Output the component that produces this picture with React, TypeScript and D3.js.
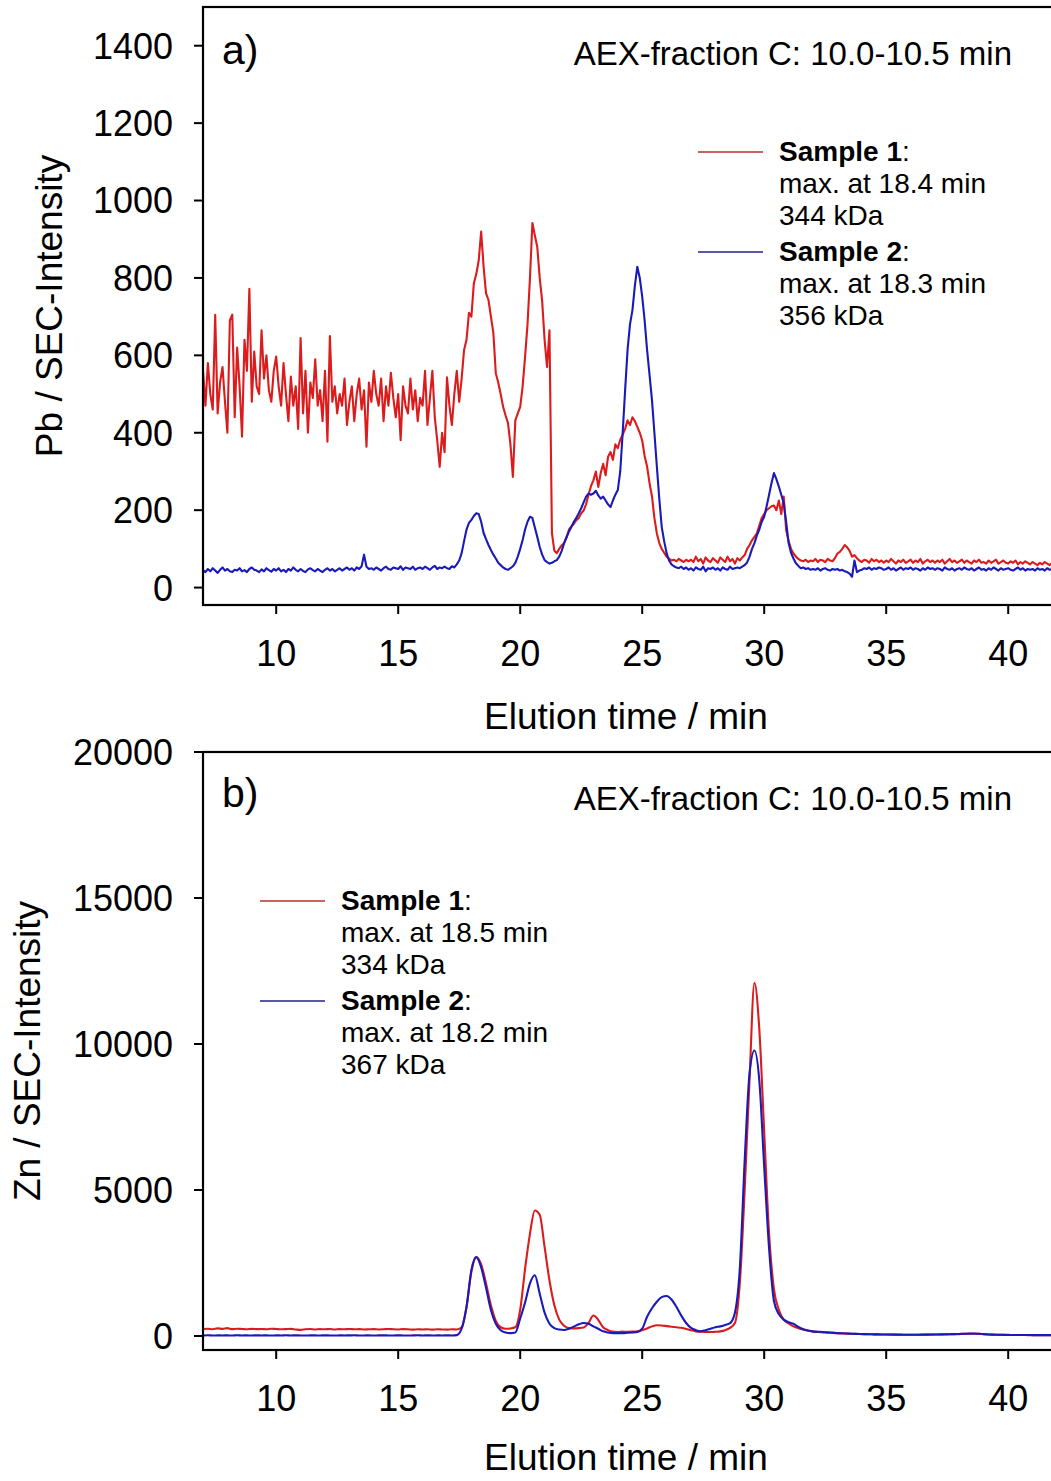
import React from 'react';
import * as d3 from 'd3';

// ---------- data ----------
const timeTicks = [10, 15, 20, 25, 30, 35, 40];
const pbTicks = [0, 200, 400, 600, 800, 1000, 1200, 1400];
const znTicks = [0, 5000, 10000, 15000, 20000];

// Pb panel: elution time from 7.0 min, one value every 0.1 min
const pbStart = 7;
const pbStep = 0.1;
const pbSample1 = [
  560, 470, 580, 500, 460, 705, 450, 530, 570, 480,
  400, 690, 705, 440, 620, 520, 390, 640, 560, 772,
  480, 610, 520, 500, 665, 540, 600, 510, 480, 560,
  597, 520, 470, 580, 500, 430, 545, 470, 520, 410,
  645, 450, 560, 400, 530, 490, 590, 470, 510, 430,
  560, 377, 650, 480, 520, 450, 500, 470, 540, 420,
  480, 520, 430, 500, 540, 460, 510, 364, 530, 480,
  560, 500, 470, 540, 430, 520, 470, 555, 490, 440,
  500, 381, 520, 470, 450, 540, 460, 510, 430, 490,
  470, 560, 420, 490, 560, 440, 380, 312, 400, 350,
  543, 470, 420, 500, 560, 480, 540, 614, 640, 710,
  700, 786, 810, 845, 920, 829, 760, 743, 700, 658,
  554, 530, 500, 467, 445, 425, 370, 286, 432, 450,
  467, 520, 596, 680, 800, 942, 910, 880, 800, 740,
  640, 570, 665, 141, 95, 89, 100, 109, 115, 130,
  150, 158, 165, 174, 180, 192, 199, 215, 240, 262,
  277, 300, 260, 296, 320, 290, 338, 350, 330, 370,
  360, 382, 395, 410, 432, 420, 440, 430, 415, 400,
  380, 340, 313, 270, 236, 180, 140, 115, 100, 90,
  80, 75, 70, 72, 68, 74, 70, 66, 72, 68,
  72, 66, 80, 68, 74, 62, 78, 70, 66, 76,
  70, 64, 78, 72, 66, 80, 68, 74, 62, 76,
  70, 78, 84, 100, 110, 122, 131, 140, 160, 180,
  190, 200, 205, 210, 212, 200, 225, 190, 235, 149,
  120, 100, 88, 80, 74, 70, 68, 72, 66, 70,
  68, 74, 66, 72, 70, 66, 74, 70, 68, 76,
  88, 92, 100, 110, 104, 95, 80, 84, 76, 70,
  66, 72, 70, 64, 74, 68, 72, 66, 70, 64,
  70, 66, 74, 68, 62, 70, 66, 72, 64, 68,
  72, 64, 70, 66, 74, 62, 68, 72, 66, 70,
  64, 70, 66, 72, 62, 68, 74, 66, 70, 64,
  68, 72, 64, 70, 66, 62, 70, 66, 72, 64,
  66, 62, 70, 64, 68, 72, 62, 66, 70, 64,
  62, 68, 64, 70, 60, 66, 62, 68, 64, 60,
  66, 62, 58, 64, 60, 66, 62, 58, 64, 60,
  62,
];
const pbSample2 = [
  45, 40, 48, 42, 50, 44, 38, 46, 52, 44,
  48, 42, 40, 46, 44, 50, 42, 45, 40, 48,
  52, 46, 44, 40, 47, 42, 50, 45, 41, 48,
  44, 50, 42, 46, 40, 48, 44, 52, 46, 42,
  48, 43, 40, 47, 50, 45, 42, 48, 44, 40,
  46, 50, 44, 48, 42, 46, 50, 44, 48, 52,
  46, 50, 44, 52, 48, 55, 85, 54, 48, 50,
  46, 52, 48, 44, 50, 54, 48, 46, 52, 50,
  48, 55, 46, 52, 50, 48, 54, 46, 50, 52,
  48, 54, 50, 46, 52, 56, 48, 52, 50, 54,
  50, 48, 55, 52, 60, 70, 89, 120, 150, 167,
  175, 185, 192, 190, 170, 141, 125, 110, 97, 85,
  75, 64, 58, 52, 48, 46, 50, 55, 64, 80,
  100, 123, 150, 170, 183, 180, 155, 131, 105, 85,
  71, 66, 62, 64, 68, 71, 80, 95, 115, 130,
  145, 157, 170, 180, 192, 205, 220, 235, 243, 240,
  243, 250, 238, 230, 235, 225, 215, 208, 225, 240,
  252, 300, 400, 510, 614, 680, 717, 780, 829, 800,
  752, 690, 614, 550, 485, 400, 313, 230, 157, 120,
  89, 70, 60, 55, 52, 50, 54, 48, 52, 46,
  50, 44, 52, 48, 46, 54, 42, 50, 48, 52,
  46, 50, 44, 52, 48, 46, 54, 48, 50, 52,
  50, 54, 58, 65, 80, 100, 115, 135, 150, 170,
  183, 210, 240, 270, 296, 280, 261, 240, 218, 170,
  115, 90, 75, 63, 56, 50, 52, 48, 50, 46,
  48, 46, 50, 44, 48, 50, 46, 44, 48, 46,
  48, 44, 46, 42, 40, 36, 28, 70, 40, 44,
  46, 50, 48, 52, 46, 50, 48, 52, 50, 46,
  48, 52, 46, 50, 44, 48, 52, 46, 50, 48,
  52, 46, 50, 48, 44, 50, 46, 52, 48, 50,
  46, 50, 48, 44, 52, 48, 46, 50, 44, 48,
  50, 46, 52, 48, 46, 50, 44, 48, 52, 46,
  48, 44, 50, 46, 52, 48, 44, 50, 46, 48,
  50, 46, 44, 48, 52, 46, 50, 44, 48, 46,
  48, 44, 50, 46, 48, 44, 50, 46, 48, 46,
  48,
];

// Zn panel: elution time from 7.0 min, one value every 0.2 min
const znStart = 7;
const znStep = 0.2;
const znSample1 = [
  240, 250, 230, 260, 245,
  270, 235, 250, 240, 230,
  245, 235, 240, 230, 250,
  240, 230, 235, 245, 225,
  210, 230, 240, 225, 235,
  230, 240, 225, 235, 230,
  240, 230, 235, 225, 230,
  235, 225, 230, 240, 230,
  225, 235, 230, 220, 230,
  225, 230, 220, 230, 225,
  220, 230, 225, 300, 1000,
  2200, 2700, 2450, 1800, 1050,
  520, 300, 250, 260, 300,
  900, 2300, 3500, 4300, 4150,
  3050, 1900, 1050, 560, 350,
  270, 260, 270, 290, 450,
  700, 550, 300, 200, 150,
  140, 150, 145, 150, 160,
  200, 260, 330, 370, 360,
  340, 320, 300, 280, 240,
  200, 160, 148, 140, 135,
  145, 160, 200, 280, 445,
  1800, 5000, 8800, 12100, 10500,
  7000, 3500, 1600, 900, 560,
  430, 330, 270, 220, 180,
  150, 135, 125, 115, 105,
  95, 88, 82, 76, 70,
  66, 62, 58, 55, 52,
  50, 48, 46, 45, 44,
  44, 42, 44, 46, 48,
  50, 52, 55, 58, 62,
  66, 72, 78, 80, 74,
  62, 52, 45, 40, 38,
  36, 35, 34, 33, 32,
  32, 31, 30, 30, 30,
  30,
];
const znSample2 = [
  20, 25, 18, 22, 20,
  22, 18, 24, 20, 21,
  19, 23, 20, 22, 18,
  21, 20, 24, 19, 22,
  20, 18, 22, 21, 19,
  23, 20, 18, 22, 20,
  21, 24, 19, 20, 22,
  18, 21, 23, 20, 19,
  22, 20, 18, 21, 24,
  20, 22, 19, 21, 20,
  22, 20, 30, 250, 1000,
  2257, 2700, 2350, 1650, 890,
  420, 200, 120, 100, 120,
  600, 1150, 1800, 2080, 1450,
  800, 420, 270, 220, 205,
  250, 320, 400, 445, 420,
  330, 250, 160, 120, 100,
  100, 100, 110, 120, 140,
  250, 660, 950, 1175, 1330,
  1370, 1250, 1000, 700, 445,
  280, 200, 160, 200, 250,
  300, 330, 380, 440, 800,
  2300, 6000, 9000, 9780, 8750,
  5800, 3000, 1200, 750, 560,
  470, 420, 310, 230, 190,
  160, 148, 135, 125, 115,
  100, 92, 84, 78, 72,
  68, 64, 60, 56, 54,
  52, 50, 48, 46, 45,
  45, 44, 46, 48, 50,
  52, 55, 58, 62, 66,
  70, 76, 82, 84, 76,
  64, 54, 46, 42, 40,
  38, 36, 35, 34, 33,
  32, 31, 31, 30, 30,
  30,
];

const pbLegend1 = ['max. at 18.4 min', '344 kDa'];
const pbLegend2 = ['max. at 18.3 min', '356 kDa'];
const znLegend1 = ['max. at 18.5 min', '334 kDa'];
const znLegend2 = ['max. at 18.2 min', '367 kDa'];

// ---------- styles ----------
const W = 1051;
const H = 1481;
const FONT = "'Liberation Sans', Arial, Helvetica, sans-serif";
const RED = '#dc1c1c';
const BLUE = '#1a1ab8';
const RED_LEG = '#b83030';
const BLUE_LEG = '#20208a';

type PanelProps = {
  id: string;
  top: number;
  bottom: number;
  yDomain: [number, number];
  yTicks: number[];
  s1: number[];
  s2: number[];
  start: number;
  step: number;
  smooth: boolean;
  yLabel: string;
  tag: string;
  tagY: number;
  noteY: number;
  yLabelX: number;
  xTitleY: number;
  legendX: number;
  legendY: number;
  leg1: string[];
  leg2: string[];
};

const LEFT = 203;
const RIGHT = 1057;

function Panel(p: PanelProps) {
  const x = d3.scaleLinear().domain([7, 42]).range([LEFT, RIGHT]);
  const y = d3.scaleLinear().domain(p.yDomain).range([p.bottom, p.top]);
  const line = d3
    .line<number>()
    .x((_, i) => x(p.start + i * p.step))
    .y((d) => y(d))
    .curve(p.smooth ? d3.curveMonotoneX : d3.curveLinear);
  const cx = (LEFT + RIGHT) / 2;
  const cy = (p.top + p.bottom) / 2;
  const lx = p.legendX;
  const ly = p.legendY;
  const lineH = 32;
  const legText = (lines: string[], y0: number, color: string, ll: number) => (
    <g>
      <line x1={lx} x2={lx + 65} y1={y0 - 9} y2={y0 - 9} stroke={color} strokeWidth={1.6} />
      <text x={lx + 81} y={y0} fontSize={28} fontFamily={FONT}>
        <tspan fontWeight="bold">{`Sample ${ll}`}</tspan>
        <tspan>:</tspan>
      </text>
      {lines.map((t, i) => (
        <text key={i} x={lx + 81} y={y0 + (i + 1) * lineH} fontSize={28} fontFamily={FONT}>
          {t}
        </text>
      ))}
    </g>
  );
  return (
    <g>
      <defs>
        <clipPath id={`clip-${p.id}`}>
          <rect x={LEFT} y={p.top} width={RIGHT - LEFT} height={p.bottom - p.top} />
        </clipPath>
      </defs>
      <g clipPath={`url(#clip-${p.id})`} fill="none" strokeWidth={2.1} strokeLinejoin="round">
        <path d={line(p.s1) || ''} stroke={RED} />
        <path d={line(p.s2) || ''} stroke={BLUE} />
      </g>
      <rect
        x={LEFT}
        y={p.top}
        width={RIGHT - LEFT}
        height={p.bottom - p.top}
        fill="none"
        stroke="#000"
        strokeWidth={2.2}
      />
      {p.yTicks.map((t) => (
        <g key={t}>
          <line x1={LEFT - 9} x2={LEFT} y1={y(t)} y2={y(t)} stroke="#000" strokeWidth={2} />
          <text
            x={173}
            y={y(t)}
            dy="0.36em"
            textAnchor="end"
            fontSize={36}
            fontFamily={FONT}
          >
            {t}
          </text>
        </g>
      ))}
      {timeTicks.map((t) => (
        <g key={t}>
          <line x1={x(t)} x2={x(t)} y1={p.bottom} y2={p.bottom + 9} stroke="#000" strokeWidth={2} />
          <text x={x(t)} y={p.bottom + 61} textAnchor="middle" fontSize={36} fontFamily={FONT}>
            {t}
          </text>
        </g>
      ))}
      <text x={cx - 4} y={p.xTitleY} textAnchor="middle" fontSize={37} fontFamily={FONT}>
        Elution time / min
      </text>
      <text
        transform={`translate(${p.yLabelX},${cy}) rotate(-90)`}
        textAnchor="middle"
        fontSize={37}
        fontFamily={FONT}
      >
        {p.yLabel}
      </text>
      <text x={222} y={p.tagY} fontSize={41} fontFamily={FONT}>
        {p.tag}
      </text>
      <text x={1012} y={p.noteY} textAnchor="end" fontSize={33} fontFamily={FONT}>
        AEX-fraction C: 10.0-10.5 min
      </text>
      {legText(p.leg1, ly, RED_LEG, 1)}
      {legText(p.leg2, ly + 100, BLUE_LEG, 2)}
    </g>
  );
}

export default function App() {
  return (
    <svg
      width={W}
      height={H}
      viewBox={`0 0 ${W} ${H}`}
      style={{ position: 'absolute', left: 0, top: 0, background: '#fff' }}
    >
      <rect x={0} y={0} width={W} height={H} fill="#fff" />
      <Panel
        id="pb"
        top={7}
        bottom={605}
        yDomain={[-45, 1500]}
        yTicks={pbTicks}
        s1={pbSample1}
        s2={pbSample2}
        start={pbStart}
        step={pbStep}
        smooth={false}
        yLabel="Pb / SEC-Intensity"
        tag="a)"
        tagY={64}
        noteY={65}
        yLabelX={62}
        xTitleY={729}
        legendX={698}
        legendY={161}
        leg1={pbLegend1}
        leg2={pbLegend2}
      />
      <Panel
        id="zn"
        top={752}
        bottom={1350}
        yDomain={[-479, 20000]}
        yTicks={znTicks}
        s1={znSample1}
        s2={znSample2}
        start={znStart}
        step={znStep}
        smooth={true}
        yLabel="Zn / SEC-Intensity"
        tag="b)"
        tagY={807}
        noteY={810}
        yLabelX={40}
        xTitleY={1470}
        legendX={260}
        legendY={910}
        leg1={znLegend1}
        leg2={znLegend2}
      />
    </svg>
  );
}
